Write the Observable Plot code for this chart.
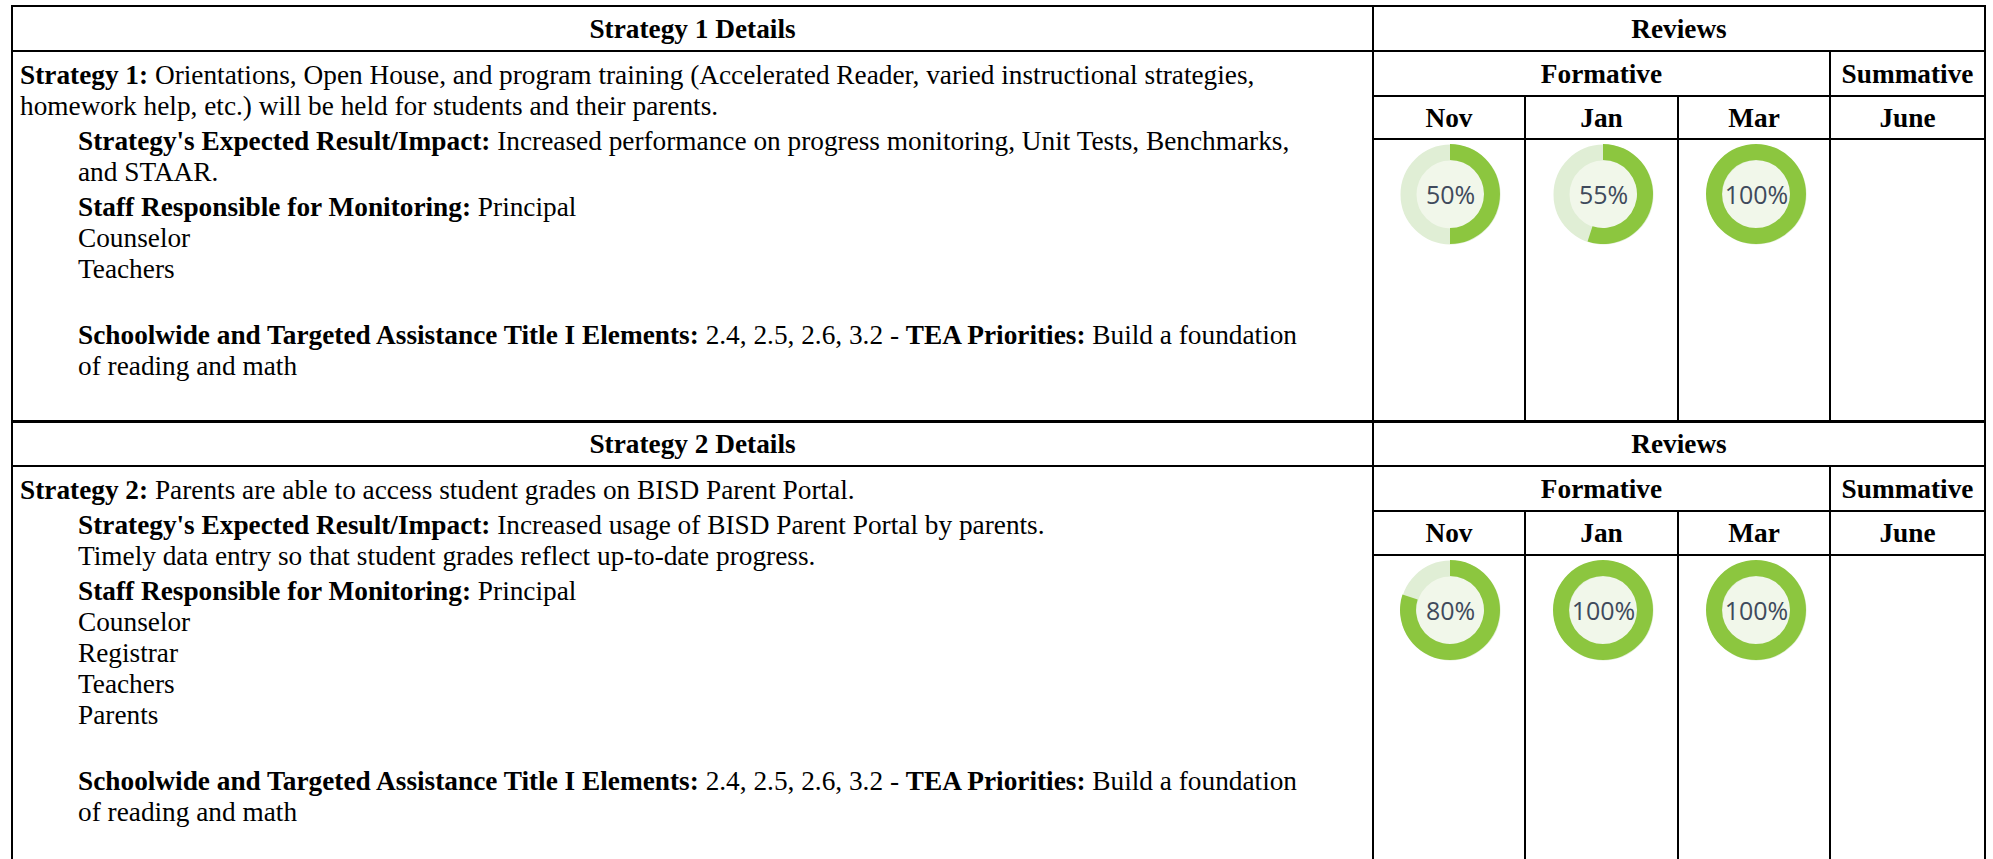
<!DOCTYPE html>
<html>
<head>
<meta charset="utf-8">
<script src="https://cdn.jsdelivr.net/npm/d3@7"></script>
<script src="https://cdn.jsdelivr.net/npm/@observablehq/plot@0.6"></script>
<style>
html, body { margin: 0; padding: 0; background: #fff; width: 1993px; height: 859px; overflow: hidden; }
#wrap { position: relative; width: 1993px; height: 859px; }
table.plan {
  position: absolute; left: 11px; border-collapse: collapse; table-layout: fixed;
  font-family: "Liberation Serif", "Times New Roman", serif; font-size: 27.3px; color: #000;
  line-height: 30px;
}
table.plan td, table.plan th { border: 2px solid #000; padding: 0; }
table.plan th { font-weight: bold; text-align: center; vertical-align: middle; white-space: nowrap; }
td.content { vertical-align: top; padding: 8px 0 0 7px !important; white-space: nowrap; line-height: 31px; }
td.content p { margin: 0 0 4px 0; }
td.content .ind { margin-left: 58px; }
.donutLayer { position: absolute; pointer-events: none; }
</style>
</head>
<body>
<div id="wrap"></div>
<script>
// ---- data ----
const months = ["Nov", "Jan", "Mar", "June"];
const formativeMonths = ["Nov", "Jan", "Mar"];
const strategy1Values = [50, 55, 100];
const strategy2Values = [80, 100, 100];

const strategy1Title = "Strategy 1 Details";
const strategy2Title = "Strategy 2 Details";
const reviewsLabel = "Reviews";
const formativeLabel = "Formative";
const summativeLabel = "Summative";

const strategy1Content = `
<p><b>Strategy 1:</b> Orientations, Open House, and program training (Accelerated Reader, varied instructional strategies,<br>homework help, etc.) will be held for students and their parents.</p>
<div class="ind">
<p><b>Strategy's Expected Result/Impact:</b> Increased performance on progress monitoring, Unit Tests, Benchmarks,<br>and STAAR.</p>
<p><b>Staff Responsible for Monitoring:</b> Principal<br>Counselor<br>Teachers<br>&nbsp;</p>
<p><b>Schoolwide and Targeted Assistance Title I Elements:</b> 2.4, 2.5, 2.6, 3.2 - <b>TEA Priorities:</b> Build a foundation<br>of reading and math</p>
</div>`;
const strategy2Content = `
<p><b>Strategy 2:</b> Parents are able to access student grades on BISD Parent Portal.</p>
<div class="ind">
<p><b>Strategy's Expected Result/Impact:</b> Increased usage of BISD Parent Portal by parents.<br>Timely data entry so that student grades reflect up-to-date progress.</p>
<p><b>Staff Responsible for Monitoring:</b> Principal<br>Counselor<br>Registrar<br>Teachers<br>Parents<br>&nbsp;</p>
<p><b>Schoolwide and Targeted Assistance Title I Elements:</b> 2.4, 2.5, 2.6, 3.2 - <b>TEA Priorities:</b> Build a foundation<br>of reading and math</p>
</div>`;

const wrap = document.getElementById("wrap");

function buildTable(id, top, title, content, rowHeights) {
  const t = document.createElement("table");
  t.className = "plan";
  t.id = id;
  t.style.top = top + "px";
  t.innerHTML = `
  <colgroup><col style="width:1361px"><col style="width:152px"><col style="width:153px"><col style="width:152px"><col style="width:155px"></colgroup>
  <tr style="height:${rowHeights[0]}px"><th>${title}</th><th colspan="4">${reviewsLabel}</th></tr>
  <tr style="height:${rowHeights[1]}px"><td class="content" rowspan="3">${content}</td><th colspan="3">${formativeLabel}</th><th>${summativeLabel}</th></tr>
  <tr style="height:${rowHeights[2]}px">${months.map(m => `<th>${m}</th>`).join("")}</tr>
  <tr style="height:${rowHeights[3]}px">${months.map(m => `<td class="donut" data-m="${m}"></td>`).join("")}</tr>`;
  wrap.appendChild(t);
  return t;
}

const t1 = buildTable("t1", 5, strategy1Title, strategy1Content, [45, 45, 43, 282]);
const t2 = buildTable("t2", 421, strategy2Title, strategy2Content, [44, 45, 44, 330]);

const angle = Plot.scale({x: {type: "linear", domain: [0, 100], range: [0, 2 * Math.PI]}});
const arcGen = d3.arc().innerRadius(34).outerRadius(50);

function donutPlot(values, width) {
  const data = values.map((v, i) => ({month: formativeMonths[i], value: v}));
  return Plot.plot({
    width, height: 110, margin: 0,
    x: {type: "point", domain: months, padding: 0.5, axis: null},
    marks: [
      Plot.dot(data, {x: "month", r: 42, fill: "#f1f7ea", stroke: "#e0eed5", strokeWidth: 16}),
      (index, scales, vals, dims) => {
        const g = d3.create("svg:g");
        const cy = dims.height / 2;
        for (const d of data) {
          g.append("path")
            .attr("transform", `translate(${scales.x(d.month)},${cy})`)
            .attr("d", arcGen({startAngle: 0, endAngle: angle.apply(d.value)}))
            .attr("fill", "#8cc63f");
        }
        return g.node();
      },
      Plot.text(data, {x: "month", text: d => `${d.value}%`, fontSize: 25, fill: "#3f4a5c",
        fontFamily: "'Open Sans', sans-serif", dy: 1})
    ]
  });
}

function placeDonuts(table, values) {
  const cells = table.querySelectorAll("td.donut");
  const wr = wrap.getBoundingClientRect();
  const a = cells[0].getBoundingClientRect();
  const b = cells[cells.length - 1].getBoundingClientRect();
  const width = Math.round(b.right - a.left);
  const svg = donutPlot(values, width);
  const holder = document.createElement("div");
  holder.className = "donutLayer";
  holder.style.left = (a.left - wr.left) + "px";
  holder.style.top = (a.top - wr.top) + "px";
  holder.appendChild(svg);
  wrap.appendChild(holder);
}

placeDonuts(t1, strategy1Values);
placeDonuts(t2, strategy2Values);
</script>
</body>
</html>
